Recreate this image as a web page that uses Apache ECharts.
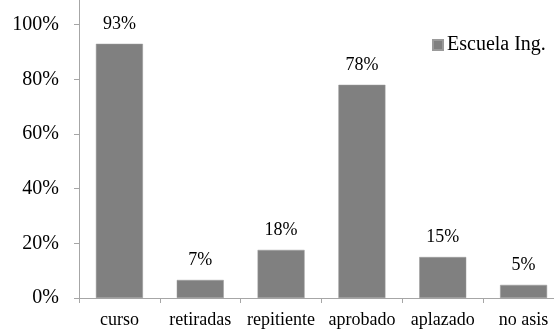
<!DOCTYPE html>
<html>
<head>
<meta charset="utf-8">
<script src="https://cdn.jsdelivr.net/npm/echarts@6/dist/echarts.min.js"></script>
<style>html,body{margin:0;padding:0;background:#fff;overflow:hidden;width:554px;height:329px;}#c{width:570px;height:369px;margin-top:-40px;}</style>
</head>
<body>
<div id="c"></div>
<script>
const categories = ['curso', 'retiradas', 'repitiente', 'aprobado', 'aplazado', 'no asis'];
const values = [0.93, 0.066, 0.176, 0.78, 0.15, 0.048];
const seriesName = 'Escuela Ing.';
const yTicks = [0, 0.2, 0.4, 0.6, 0.8, 1.0, 1.2];

const chart = echarts.init(document.getElementById('c'), null, {renderer: 'canvas'});
const font = '"Liberation Serif", "Times New Roman", serif';
chart.setOption({
  animation: false,
  textStyle: {fontFamily: font},
  grid: {left: 79, width: 485, top: 5, bottom: 30, containLabel: false},
  legend: {
    show: true, left: 432, top: 75, padding: 0,
    itemWidth: 10, itemHeight: 10, itemGap: 5,
    icon: 'rect',
    textStyle: {fontFamily: font, fontSize: 20, color: '#000', padding: [0,0,0,-1]},
    data: [seriesName]
  },
  xAxis: {
    type: 'category', data: categories,
    axisLine: {lineStyle: {color: '#a6a6a6', width: 1}},
    axisTick: {show: true, length: 5, lineStyle: {color: '#a6a6a6'}},
    axisLabel: {fontFamily: font, fontSize: 18, color: '#000', margin: 13, interval: 0}
  },
  yAxis: {
    type: 'value', min: yTicks[0], max: yTicks[yTicks.length - 1], interval: 0.2,
    axisLine: {show: true, lineStyle: {color: '#a6a6a6', width: 1}},
    axisTick: {show: true, length: 5, inside: false, lineStyle: {color: '#a6a6a6'}},
    splitLine: {show: false},
    axisLabel: {
      fontFamily: font, fontSize: 20, color: '#000', margin: 20,
      formatter: v => Math.round(v * 100) + '%'
    }
  },
  series: [{
    name: seriesName, type: 'bar', data: values,
    barWidth: 47,
    itemStyle: {color: '#808080', borderColor: '#9a9a9a', borderWidth: 0.5},
    label: {
      show: true, position: 'top', distance: 11,
      fontFamily: font, fontSize: 18, color: '#000',
      formatter: p => Math.round(p.value * 100) + '%'
    }
  }]
});
</script>
</body>
</html>
